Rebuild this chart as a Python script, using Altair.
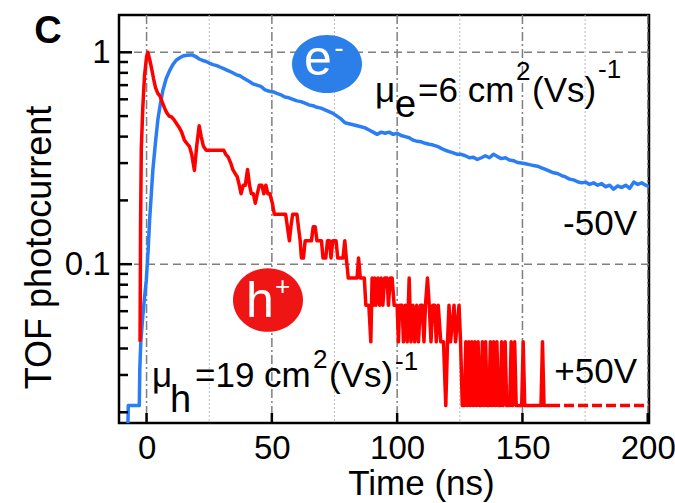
import altair as alt
import pandas as pd

FONT = "Liberation Sans"

# ---------------- data ----------------
blue_t = [-7.7, -7.3, -2.9, -2.7, -2.3, -1.6, -0.9, -0.1, 0.6, 1.2, 1.9, 2.5, 3.5, 4.5, 5.5, 6.5,
          7.8, 9.2, 10.5, 11.8, 13.1, 14.5, 16.0, 17.4, 18.4, 19.6, 21.0, 22.4, 23.8, 25.0, 26.5,
          28.0, 29.5, 31.0, 32.5, 34.0, 35.7, 37.2, 38.8, 40.5, 42.4, 44.0, 45.6, 47.3, 49.0,
          50.6, 52.0, 53.6, 55.2, 56.8, 58.4, 60.0, 61.6, 63.2, 64.8, 66.4, 68.0, 69.6, 71.2,
          72.8, 74.4, 76.0, 77.6, 79.2, 80.8, 82.4, 84.0, 85.6, 87.2, 88.8, 90.4, 92.0, 93.6,
          95.2, 96.8, 98.4, 100.0, 101.6, 103.2, 104.8, 106.4, 108.0, 109.6, 111.2, 112.8,
          114.4, 116.0, 117.6, 119.2, 120.8, 122.4, 124.0, 125.6, 127.2, 128.8, 130.4, 132.0,
          133.6, 135.2, 136.8, 138.4, 140.0, 141.6, 143.2, 144.8, 146.4, 148.0, 149.6, 151.2,
          152.8, 154.4, 156.0, 157.6, 159.2, 160.8, 162.4, 164.0, 165.6, 167.2, 168.8, 170.4,
          172.0, 173.6, 175.2, 176.8, 178.4, 180.0, 181.6, 183.2, 184.8, 186.4, 188.0, 189.6,
          191.2, 192.8, 194.4, 196.0, 197.6, 199.2, 200.5]
blue_v = [0.012, 0.0215, 0.0215, 0.032, 0.043, 0.055, 0.068, 0.084, 0.115, 0.16, 0.215, 0.277,
          0.37, 0.48, 0.57, 0.66, 0.75, 0.82, 0.875, 0.917, 0.94, 0.96, 0.968, 0.972, 0.97,
          0.955, 0.93, 0.915, 0.905, 0.89, 0.875, 0.865, 0.85, 0.835, 0.82, 0.805, 0.785, 0.775,
          0.755, 0.735, 0.71, 0.7, 0.69, 0.665, 0.655, 0.65, 0.64, 0.63, 0.615, 0.61, 0.6, 0.59,
          0.585, 0.575, 0.565, 0.56, 0.55, 0.545, 0.535, 0.525, 0.515, 0.5, 0.485, 0.465, 0.46,
          0.455, 0.45, 0.445, 0.44, 0.43, 0.42, 0.41, 0.42, 0.415, 0.42, 0.41, 0.415, 0.405,
          0.4, 0.395, 0.385, 0.38, 0.378, 0.372, 0.368, 0.365, 0.36, 0.352, 0.345, 0.34, 0.335,
          0.33, 0.33, 0.325, 0.318, 0.32, 0.312, 0.318, 0.325, 0.318, 0.33, 0.322, 0.315, 0.318,
          0.31, 0.308, 0.302, 0.3, 0.298, 0.295, 0.292, 0.29, 0.285, 0.28, 0.275, 0.27, 0.268,
          0.262, 0.258, 0.252, 0.25, 0.245, 0.242, 0.244, 0.238, 0.242, 0.236, 0.24, 0.232,
          0.236, 0.226, 0.234, 0.23, 0.236, 0.228, 0.244, 0.238, 0.242, 0.236, 0.232]

# red trace (+50V), read in four stretches
red_t_a = [-2.6, -2.4, -2.1, -1.5, -0.8, 0.0, 0.5, 1.2, 2.0, 2.8, 3.6, 4.5, 5.4, 6.3, 7.2, 8.0,
           9.0, 10.0, 11.0, 12.0, 13.1, 14.0, 15.1, 16.2, 17.1, 18.0, 19.1, 20.0, 21.0, 21.8,
           22.7, 23.8, 30.8, 31.6, 32.6, 33.6, 34.4, 35.2, 36.2, 37.0, 37.7, 38.6, 39.4, 40.3,
           41.1, 41.8, 42.6, 43.4, 44.2, 45.0, 46.0, 46.8, 47.6, 48.4, 49.2, 50.2, 51.0, 55.5]
red_v_a = [0.043, 0.15, 0.35, 0.55, 0.78, 0.95, 1.0, 0.93, 0.84, 0.75, 0.68, 0.64, 0.62, 0.58,
           0.545, 0.52, 0.5, 0.495, 0.48, 0.46, 0.44, 0.42, 0.385, 0.37, 0.36, 0.33, 0.277, 0.36,
           0.45, 0.4, 0.36, 0.345, 0.345, 0.33, 0.32, 0.3, 0.28, 0.27, 0.258, 0.236, 0.215, 0.236,
           0.236, 0.28, 0.236, 0.215, 0.215, 0.194, 0.215, 0.236, 0.236, 0.215, 0.236, 0.215,
           0.215, 0.194, 0.172, 0.172]
red_t_b = [56.2, 57.0, 57.6, 58.3, 60.0, 60.6, 61.3, 61.8, 62.6, 63.3, 65.8, 66.5, 67.3, 68.0,
           69.8, 70.4, 71.5, 72.2, 73.0, 73.6, 74.3, 75.6, 76.3, 78.4, 79.1, 79.7, 80.5, 84.0,
           84.6, 85.3, 86.9, 87.5, 88.7, 89.5]
red_v_b = [0.15, 0.129, 0.15, 0.172, 0.172, 0.15, 0.129, 0.107, 0.107, 0.129, 0.129, 0.15, 0.15,
           0.129, 0.129, 0.107, 0.107, 0.129, 0.129, 0.107, 0.129, 0.129, 0.107, 0.107, 0.129,
           0.107, 0.086, 0.086, 0.107, 0.086, 0.086, 0.064, 0.064, 0.043]
red_t_c = [90.0, 90.5, 91.0, 91.5, 92.3, 93.0, 93.6, 94.3, 95.0, 96.0, 96.5, 97.3, 98.0, 98.8,
           100.0, 100.5, 101.0, 102.0, 102.5, 103.3, 104.0, 104.8, 105.5, 106.3, 107.0, 107.8,
           108.5, 109.3, 110.0, 110.7, 111.3, 112.1, 112.8, 113.5, 114.2, 115.0, 115.6, 116.4,
           117.4, 118.5, 119.4, 120.1, 120.7, 121.3, 122.7, 123.3, 124.7, 125.3, 126.0, 126.8]
red_v_c = [0.086, 0.064, 0.086, 0.064, 0.086, 0.064, 0.086, 0.064, 0.086, 0.086, 0.064, 0.086,
           0.086, 0.064, 0.064, 0.043, 0.064, 0.064, 0.043, 0.064, 0.043, 0.086, 0.043, 0.064,
           0.043, 0.064, 0.043, 0.064, 0.064, 0.043, 0.064, 0.086, 0.064, 0.043, 0.064, 0.064,
           0.043, 0.064, 0.043, 0.043, 0.0215, 0.043, 0.064, 0.043, 0.064, 0.043, 0.064, 0.043,
           0.0215, 0.0215]
red_t_d = [127.4, 128.0, 128.6, 129.2, 129.8, 130.4, 131.0, 131.6, 132.3, 132.9, 133.4, 134.0,
           134.6, 135.3, 135.9, 136.6, 137.2, 137.8, 138.5, 139.1, 139.8, 140.4, 141.1, 141.7,
           142.3, 143.1, 143.7, 144.9, 145.5, 146.1, 146.9, 147.5, 149.7, 150.3, 150.9, 157.4,
           158.0, 158.6, 161.0]
red_v_d = [0.043, 0.0215, 0.043, 0.0215, 0.043, 0.0215, 0.043, 0.0215, 0.043, 0.0215, 0.0215,
           0.043, 0.0215, 0.043, 0.0215, 0.0215, 0.043, 0.0215, 0.043, 0.0215, 0.043, 0.0215,
           0.0215, 0.043, 0.0215, 0.043, 0.0215, 0.0215, 0.043, 0.0215, 0.043, 0.0215, 0.0215,
           0.043, 0.0215, 0.0215, 0.043, 0.0215, 0.0215]

red_tail_t = [161.0, 200.5]
red_tail_v = [0.0215, 0.0215]

x_major = [0, 50, 100, 150, 200]
x_minor = [25, 75, 125, 175]
y_major = [0.1, 1]
y_minor = [0.02, 0.03, 0.04, 0.05, 0.06, 0.07, 0.08, 0.09,
           0.2, 0.3, 0.4, 0.5, 0.6, 0.7, 0.8, 0.9]

x_title = "Time (ns)"
y_title = "TOF photocurrent"
panel_label = "C"
e_label = ["e", "-"]
h_label = ["h", "+"]
mu_e = ["μ", "e", "=6 cm", "2", "(Vs)", "-1"]
mu_h = ["μ", "h", "=19 cm", "2", "(Vs)", "-1"]
v_neg = "-50V"
v_pos = "+50V"

BLUE = "#2a7df5"
BLUE_C = "#2c7fe9"
RED = "#ff0000"
RED_C = "#f01515"

W, H = 530, 408

red_t = red_t_a + red_t_b + red_t_c + red_t_d
red_v = red_v_a + red_v_b + red_v_c + red_v_d
assert len(red_t) == len(red_v) and len(blue_t) == len(blue_v)

# ---------------- scales / axes ----------------
xs = alt.Scale(domain=[-11, 200.5], nice=False, zero=False)
ys = alt.Scale(type="log", domain=[0.0178, 1.5], nice=False)

x_axis = alt.Axis(values=x_major, ticks=False, tickSize=0, domain=False, grid=False,
                  labelFontSize=33, labelFont=FONT, labelColor="black", labelPadding=9,
                  labelFlush=False, labelOverlap=False, labelBound=False,
                  titleFontSize=35, titleFont=FONT, titleFontWeight="normal", titleColor="black",
                  titleX=302, titleY=71, titleAlign="center", titleBaseline="alphabetic")
y_axis = alt.Axis(values=y_major, format="~g", ticks=False, tickSize=0, domain=False, grid=False,
                  labelFontSize=33, labelFont=FONT, labelColor="black", labelPadding=9,
                  labelOverlap=False, labelBound=False, labelFlush=False,
                  titleFontSize=36, titleFont=FONT, titleFontWeight="normal", titleColor="black",
                  titleX=-80, titleY=232, titleAlign="center", titleBaseline="middle", titleAngle=270)


def X():
    return alt.X("t:Q", scale=xs, axis=x_axis, title=x_title)


def Y():
    return alt.Y("v:Q", scale=ys, axis=y_axis, title=y_title)


blue_df = pd.DataFrame({"t": blue_t, "v": blue_v, "i": range(len(blue_t))})
red_df = pd.DataFrame({"t": red_t, "v": red_v, "i": range(len(red_t))})
tail_df = pd.DataFrame({"t": red_tail_t, "v": red_tail_v})

grid_minor = alt.Chart(pd.DataFrame({"t": x_minor})).mark_rule(
    color="#bdbdbd", strokeWidth=1, strokeDash=[2, 2]).encode(x=X())
grid_major = alt.Chart(pd.DataFrame({"t": x_major})).mark_rule(
    color="#7f7f7f", strokeWidth=1.5, strokeDash=[9, 3, 2, 3]).encode(x=X())
grid_y = alt.Chart(pd.DataFrame({"v": y_major})).mark_rule(
    color="#7f7f7f", strokeWidth=1.5, strokeDash=[8, 5]).encode(y=Y())

blue_line = alt.Chart(blue_df).mark_line(color=BLUE, strokeWidth=3.5, clip=True,
                                         strokeJoin="round").encode(x=X(), y=Y(), order="i:Q")
red_line = alt.Chart(red_df).mark_line(color=RED, strokeWidth=3.5, clip=True,
                                       strokeJoin="round").encode(x=X(), y=Y(), order="i:Q")
red_tail = alt.Chart(tail_df).mark_line(color=RED, strokeWidth=3.5, strokeDash=[10, 4],
                                        clip=True).encode(x=X(), y=Y())

y_ticks_major = alt.Chart(pd.DataFrame({"v": y_major})).mark_rule(color="black", strokeWidth=2.5).encode(
    y=Y(), x=alt.value(0), x2=alt.value(13))
y_ticks_minor = alt.Chart(pd.DataFrame({"v": y_minor})).mark_rule(color="black", strokeWidth=2.5).encode(
    y=Y(), x=alt.value(0), x2=alt.value(9))
x_ticks = alt.Chart(pd.DataFrame({"t": x_major})).mark_rule(color="black", strokeWidth=2.5).encode(
    x=X(), y=alt.value(H), y2=alt.value(H - 10))


def label(txt, x, y, size, color="black", align="left", weight="normal"):
    return alt.Chart(alt.Data(values=[{}])).mark_text(
        text=txt, fontSize=size, font=FONT, color=color, align=align,
        baseline="alphabetic", fontWeight=weight).encode(x=alt.value(x), y=alt.value(y))


def ellipse(x, y, ry, color):
    path = f"M -1 0 A 1 {ry} 0 1 0 1 0 A 1 {ry} 0 1 0 -1 0 Z"
    return alt.Chart(alt.Data(values=[{}])).mark_point(
        shape=path, size=4900, filled=True, color=color, opacity=1, strokeWidth=0).encode(
        x=alt.value(x), y=alt.value(y))


annotations = [
    label(panel_label, -71, 28, 38, align="center", weight="bold"),
    ellipse(208, 49, 0.83, BLUE_C),
    label(e_label[0], 199, 60, 50, color="white", align="center"),
    label(e_label[1], 220, 42, 28, color="white", align="center"),
    ellipse(149, 285, 0.91, RED_C),
    label(h_label[0], 141, 302, 50, color="white", align="center"),
    label(h_label[1], 163.5, 280, 26, color="white", align="center"),
    label(mu_e[0], 256, 87, 35),
    label(mu_e[1], 276, 102, 38),
    label(mu_e[2], 299, 87, 35),
    label(mu_e[3], 397, 65, 26),
    label(mu_e[4], 413, 87, 35),
    label(mu_e[5], 479, 63, 26),
    label(mu_h[0], 33, 372, 35),
    label(mu_h[1], 51, 397, 38),
    label(mu_h[2], 76, 372, 35),
    label(mu_h[3], 194, 353, 26),
    label(mu_h[4], 210, 372, 35),
    label(mu_h[5], 276, 355, 26),
    label(v_neg, 518, 220, 35, align="right"),
    label(v_pos, 518, 368, 35, align="right"),
]

chart = alt.layer(
    grid_minor, grid_major, grid_y, blue_line, red_line, red_tail,
    y_ticks_major, y_ticks_minor, x_ticks, *annotations
).properties(
    width=W, height=H,
    autosize=alt.AutoSizeParams(type="none"),
    padding={"left": 119, "top": 15, "right": 26, "bottom": 80},
    background="white",
).configure_view(stroke="black", strokeWidth=2.5)

chart.save("out.html", embed_options={"renderer": "svg", "actions": False})
